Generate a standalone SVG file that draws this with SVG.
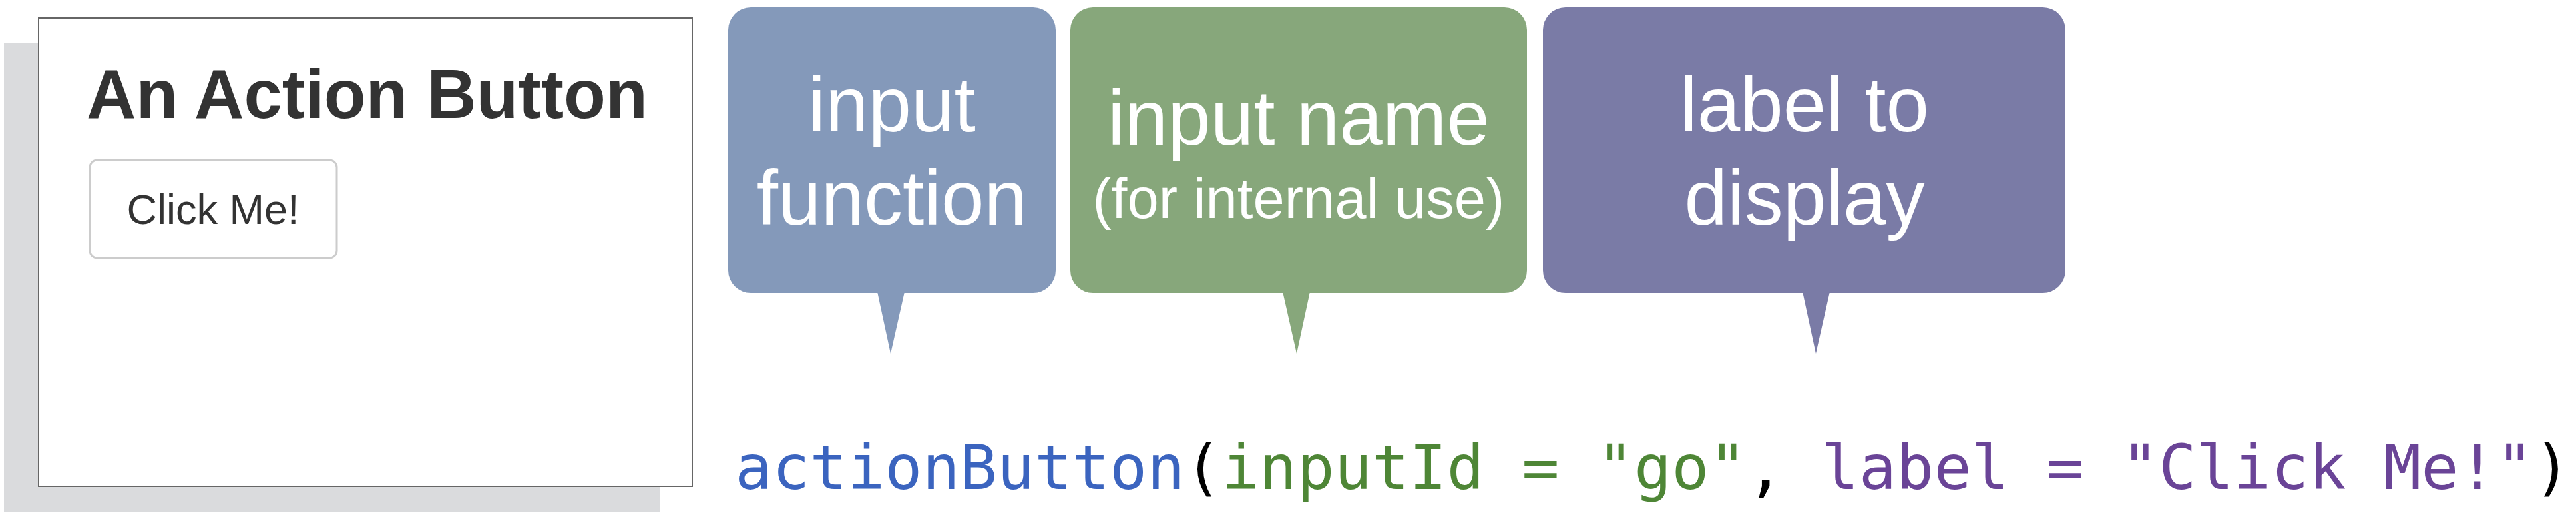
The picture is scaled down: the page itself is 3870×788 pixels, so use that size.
<svg xmlns="http://www.w3.org/2000/svg" width="3870" height="788" viewBox="0 0 3870 788">
<style>
.bt{fill:#fff;font-family:"Liberation Sans",Arial,sans-serif;text-anchor:middle}
.big{font-size:116px}
.small{font-size:85px}
.code{font-family:"DejaVu Sans Mono",monospace;font-size:93.5px}
</style>
<rect width="3870" height="788" fill="#fff"/>
<g id="app-preview">
<rect x="6" y="64" width="985" height="705" fill="#dadbdd"/>
<rect x="58" y="27" width="982" height="703" fill="#fff" stroke="#666" stroke-width="2"/>
<text x="130" y="177" font-family="Liberation Sans,Arial,sans-serif" font-weight="bold" font-size="103" fill="#333">An Action Button</text>
<rect x="135" y="240" width="371" height="147" rx="11" fill="#fff" stroke="#ccc" stroke-width="3"/>
<text x="320" y="336" font-family="Liberation Sans,Arial,sans-serif" font-size="63" fill="#333" text-anchor="middle">Click Me!</text>
</g>
<g id="bubble-input-function">
<rect x="1094" y="11" width="492" height="429" rx="34" fill="#8499ba"/>
<polygon points="1318,438 1359,438 1338,531" fill="#8499ba"/>
<text class="bt big" x="1340" y="197">input</text>
<text class="bt big" x="1340" y="337">function</text>
</g>
<g id="bubble-input-name">
<rect x="1608" y="11" width="686" height="429" rx="34" fill="#87a77b"/>
<polygon points="1927,438 1968,438 1948,531" fill="#87a77b"/>
<text class="bt big" x="1951" y="217">input name</text>
<text class="bt small" x="1951" y="327">(for internal use)</text>
</g>
<g id="bubble-label">
<rect x="2318" y="11" width="785" height="429" rx="34" fill="#7a7ba6"/>
<polygon points="2708,438 2749,438 2728,531" fill="#7a7ba6"/>
<text class="bt big" x="2711" y="197">label to</text>
<text class="bt big" x="2711" y="337">display</text>
</g>
<g id="code">
<text class="code" x="1104" y="734" xml:space="preserve"><tspan fill="#3b64bf">actionButton</tspan><tspan fill="#000">(</tspan><tspan fill="#4e8636">inputId = "go"</tspan><tspan fill="#000">, </tspan><tspan fill="#6a4497">label = "Click Me!"</tspan><tspan fill="#000">)</tspan></text>
</g>
<g id="connectors"></g>
</svg>
